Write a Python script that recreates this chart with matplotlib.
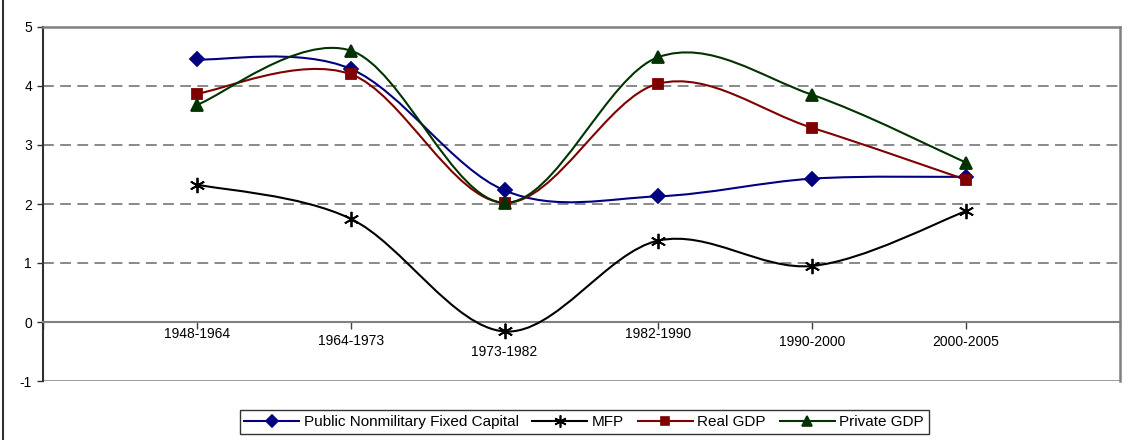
import numpy as np
import matplotlib
matplotlib.use("Agg")
import matplotlib.pyplot as plt
from matplotlib.path import Path
from matplotlib.patches import PathPatch
from matplotlib.lines import Line2D

plt.rcParams["font.family"] = ["Liberation Sans", "DejaVu Sans"]
plt.rcParams["axes.unicode_minus"] = False

# Average annual growth rates by period
periods = ["1948-1964", "1964-1973", "1973-1982", "1982-1990", "1990-2000", "2000-2005"]
public_capital = [4.45, 4.29, 2.23, 2.13, 2.43, 2.46]
mfp = [2.33, 1.75, -0.16, 1.38, 0.95, 1.88]
real_gdp = [3.87, 4.20, 2.02, 4.04, 3.29, 2.41]
private_gdp = [3.68, 4.60, 2.02, 4.49, 3.85, 2.70]

series = [
    ("Public Nonmilitary Fixed Capital", public_capital, "#000080", "D", 7.5),
    ("MFP", mfp, "black", (6, 2, 0), 11),
    ("Real GDP", real_gdp, "#800000", "s", 7.5),
    ("Private GDP", private_gdp, "#003300", "^", 9),
]

# vertical offsets (points) of the category labels under the zero line
label_drop = [8.6, 13.7, 21.6, 8.6, 14.4, 14.4]


def smooth_path(xs, ys):
    # Bezier curve through the points, control points from neighbouring points
    pts = np.column_stack([xs, ys]).astype(float)
    padded = np.vstack([pts[0], pts, pts[-1]])
    verts = [pts[0]]
    codes = [Path.MOVETO]
    for i in range(len(pts) - 1):
        p0, p1, p2, p3 = padded[i], padded[i + 1], padded[i + 2], padded[i + 3]
        c1 = p1 + (p2 - p0) / 6.0
        c2 = p2 - (p3 - p1) / 6.0
        verts += [c1, c2, p2]
        codes += [Path.CURVE4] * 3
    return Path(verts, codes)


fig = plt.figure(figsize=(11.35, 4.4), dpi=100)
ax = fig.add_axes([43 / 1135, 59 / 440, 1077 / 1135, 354 / 440])

x = np.arange(1, len(periods) + 1)
ax.set_xlim(0, len(periods) + 1)
ax.set_ylim(-1, 5)

# dashed gridlines
for yv in [1, 2, 3, 4]:
    ax.axhline(yv, color="#808080", lw=1.3, ls=(0, (6, 3.5)), zorder=1)
ax.axhline(-1, color="#808080", lw=1.8, zorder=1)

for name, vals, color, marker, ms in series:
    ax.add_patch(PathPatch(smooth_path(x, vals), facecolor="none",
                           edgecolor=color, lw=1.5, zorder=3))
    ax.plot(x, vals, ls="none", marker=marker, color=color, ms=ms,
            mec=color, mew=1.3, zorder=4)

# axes styling
ax.spines["bottom"].set_position(("data", 0))
ax.spines["bottom"].set_color("#808080")
ax.spines["bottom"].set_linewidth(1.5)
ax.spines["top"].set_color("#808080")
ax.spines["top"].set_linewidth(1.8)
ax.spines["right"].set_color("#808080")
ax.spines["right"].set_linewidth(1.8)
ax.spines["left"].set_color("#303030")
ax.spines["left"].set_linewidth(1.5)

ax.set_xticks(np.arange(0, len(periods) + 2))
ax.set_xticklabels([])
ax.tick_params(axis="x", direction="out", length=5, color="#404040", width=1)
ax.set_yticks(np.arange(-1, 6))
ax.tick_params(axis="y", direction="out", length=4, color="#303030", width=1,
               labelsize=10, pad=4)

for xi, lab, dy in zip(x, periods, label_drop):
    ax.annotate(lab, xy=(xi, 0), xytext=(0, -dy), textcoords="offset points",
                ha="center", va="center", fontsize=10, annotation_clip=False)

handles = [Line2D([], [], color=c, lw=1.5, marker=m, ms=ms * 0.8, mec=c, mew=1.2)
           for _, _, c, m, ms in series]
leg = fig.legend(handles, [s[0] for s in series], loc="center",
                 bbox_to_anchor=(584 / 1135, 18 / 440), ncol=4, fontsize=11,
                 frameon=True, fancybox=False, edgecolor="black",
                 handlelength=3.6, handletextpad=0.3, columnspacing=0.9,
                 borderpad=0.3)
leg.get_frame().set_linewidth(1.0)

# left border of the chart area
fig.add_artist(Line2D([3 / 1135, 3 / 1135], [0, 1], color="#303030", lw=1.5,
                      transform=fig.transFigure))

fig.savefig("out.png", dpi=100)
